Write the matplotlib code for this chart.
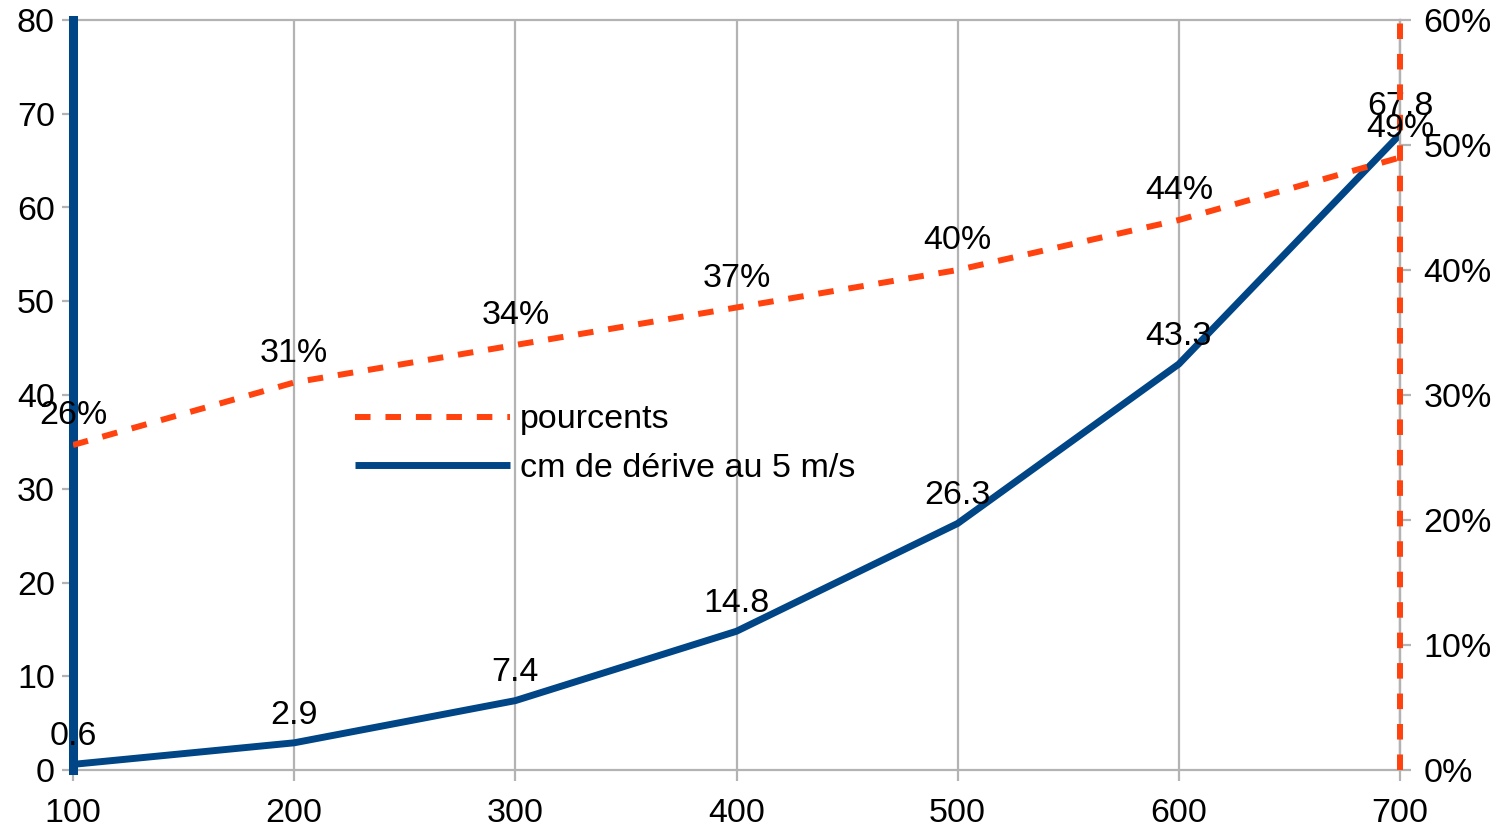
import matplotlib
matplotlib.use("Agg")
import matplotlib.pyplot as plt
from matplotlib.ticker import FuncFormatter

plt.rcParams['font.family'] = ['Liberation Sans', 'DejaVu Sans']

distances = [100, 200, 300, 400, 500, 600, 700]
derive_cm = [0.6, 2.9, 7.4, 14.8, 26.3, 43.3, 67.8]
pourcents = [26, 31, 34, 37, 40, 44, 49]
blue_label = "cm de dérive au 5 m/s"
orange_label = "pourcents"

BLUE = "#004586"
ORANGE = "#ff420e"
GRAY = "#b3b3b3"
FS = 24.5

fig = plt.figure(figsize=(15, 8.3), dpi=100)
ax = fig.add_axes([73/1500, (830-770)/830, (1400-73)/1500, 750/830])
ax2 = ax.twinx()

ax.set_xlim(100, 700)
ax.set_ylim(0, 80)
ax2.set_ylim(0, 60)
ax.set_xticks(distances)
ax.set_yticks(range(0, 81, 10))
ax2.set_yticks(range(0, 61, 10))
ax2.yaxis.set_major_formatter(FuncFormatter(lambda v, p: f"{int(v)}%"))

ax.grid(axis='x', color=GRAY, linewidth=1.6)
ax.set_axisbelow(True)
for s in ax.spines.values():
    s.set_color(GRAY)
    s.set_linewidth(1.6)
for name, s in ax2.spines.items():
    if name == 'right':
        s.set_color(GRAY)
        s.set_linewidth(1.6)
    else:
        s.set_visible(False)
ax.tick_params(axis='both', colors=GRAY, labelcolor='black', labelsize=FS,
               length=8, width=1.6)
ax.tick_params(axis='y', pad=5)
ax.tick_params(axis='x', pad=12)
ax2.tick_params(axis='y', colors=GRAY, labelcolor='black', labelsize=FS,
                length=8, width=1.6, pad=9)

# axis lines in series colours
ax.axvline(distances[0], color=BLUE, linewidth=6.5, clip_on=False, zorder=3)
ax2.axvline(distances[-1], color=ORANGE, linewidth=4.3, dashes=(2.6, 2.5),
            clip_on=False, zorder=3)

lb, = ax.plot(distances, derive_cm, color=BLUE, linewidth=5,
              solid_capstyle='butt', zorder=4, label=blue_label)
lo, = ax2.plot(distances, pourcents, color=ORANGE, linewidth=4.3,
               dashes=(2.6, 2.5), zorder=4, label=orange_label)

for x, v in zip(distances, derive_cm):
    ax.annotate(f"{v}", (x, v), xytext=(0, 20), textcoords='offset points',
                ha='center', va='center', fontsize=FS, zorder=6,
                annotation_clip=False)
for x, v in zip(distances, pourcents):
    ax2.annotate(f"{v}%", (x, v), xytext=(0, 21), textcoords='offset points',
                 ha='center', va='center', fontsize=FS, zorder=6,
                 annotation_clip=False)

leg = fig.legend([lo, lb], [orange_label, blue_label], loc='center left',
                 bbox_to_anchor=(355/1500, 1-444/830), frameon=False,
                 fontsize=FS, handlelength=4.55, handletextpad=0.3,
                 labelspacing=0.5, borderpad=0, borderaxespad=0)

fig.savefig("out.png", dpi=100)
